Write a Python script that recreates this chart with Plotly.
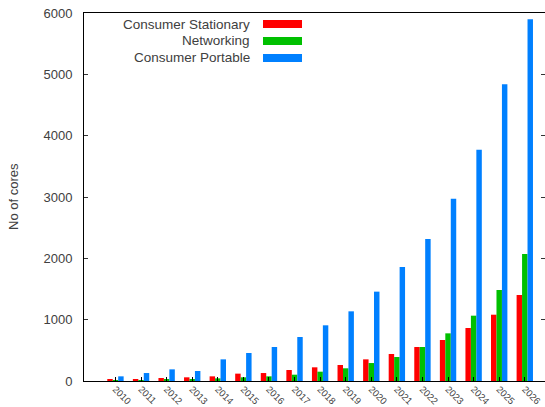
import plotly.graph_objects as go

years = [str(y) for y in range(2010, 2027)]
consumer_stationary = [22, 33, 49, 60, 76, 120, 130, 179, 223, 261, 353, 440, 554, 669, 864, 1081, 1402]
networking = [15, 15, 22, 33, 43, 60, 76, 103, 152, 207, 293, 391, 554, 777, 1065, 1484, 2071]
consumer_portable = [76, 130, 190, 163, 353, 457, 554, 717, 908, 1136, 1457, 1859, 2315, 2973, 3772, 4837, 5897]

series_names = ["Consumer Stationary", "Networking", "Consumer Portable"]
series_values = [consumer_stationary, networking, consumer_portable]
colors = ["#ff0000", "#00c000", "#0080ff"]

y_ticks = [0, 1000, 2000, 3000, 4000, 5000, 6000]

FONT = "Liberation Sans, Arial, sans-serif"
TXT = "#404040"

fig = go.Figure()
for name, vals, col in zip(series_names, series_values, colors):
    fig.add_trace(go.Bar(x=years, y=vals, name=name, marker=dict(color=col, line=dict(width=0)),
                         showlegend=False))

# invisible trace to carry the mirrored right-side ticks
fig.add_trace(go.Scatter(x=[years[0]], y=[0], yaxis="y2", mode="markers",
                         marker=dict(opacity=0), showlegend=False, hoverinfo="skip"))

fig.update_layout(
    width=545, height=407,
    margin=dict(l=84, r=0, t=13, b=26),
    paper_bgcolor="white", plot_bgcolor="white",
    barmode="group", bargap=0.36, bargroupgap=0,
    font=dict(family=FONT, color=TXT),
    xaxis=dict(type="category", range=[-1.23, 16.79], showgrid=False, zeroline=False,
               showline=True, linecolor="black", linewidth=1, mirror=True,
               ticks="inside", ticklen=4, tickcolor="black",
               tickangle=45, ticklabelstandoff=-2,
               tickfont=dict(size=9.5, color=TXT, family=FONT)),
    yaxis=dict(range=[0, 6000], tickvals=y_ticks, showgrid=False, zeroline=False,
               showline=True, linecolor="black", linewidth=1,
               ticks="inside", ticklen=4, tickcolor="#333",
               ticklabelstandoff=8,
               tickfont=dict(size=13, color=TXT, family=FONT)),
    yaxis2=dict(range=[0, 6000], tickvals=y_ticks, overlaying="y", side="right",
                showgrid=False, zeroline=False, showline=False, showticklabels=False,
                ticks="inside", ticklen=4, tickcolor="#333"),
)

# y-axis title
fig.add_annotation(text="No of cores", xref="paper", yref="paper", x=-0.154, y=0.5,
                   textangle=-90, showarrow=False, xanchor="center", yanchor="middle",
                   font=dict(size=13, color=TXT, family=FONT))

# gnuplot-style legend: text right-aligned, swatch to the right
leg_y = [0.970, 0.924, 0.878]
for name, col, yy in zip(series_names, colors, leg_y):
    fig.add_annotation(text=name, xref="paper", yref="paper", x=0.3644, y=yy,
                       xanchor="right", yanchor="middle", showarrow=False,
                       font=dict(size=13.5, color=TXT, family=FONT))
    fig.add_shape(type="rect", xref="paper", yref="paper", x0=0.3883, x1=0.4729,
                  y0=yy - 0.0109, y1=yy + 0.0109, fillcolor=col, line=dict(width=0))

fig.write_html("out.html")
